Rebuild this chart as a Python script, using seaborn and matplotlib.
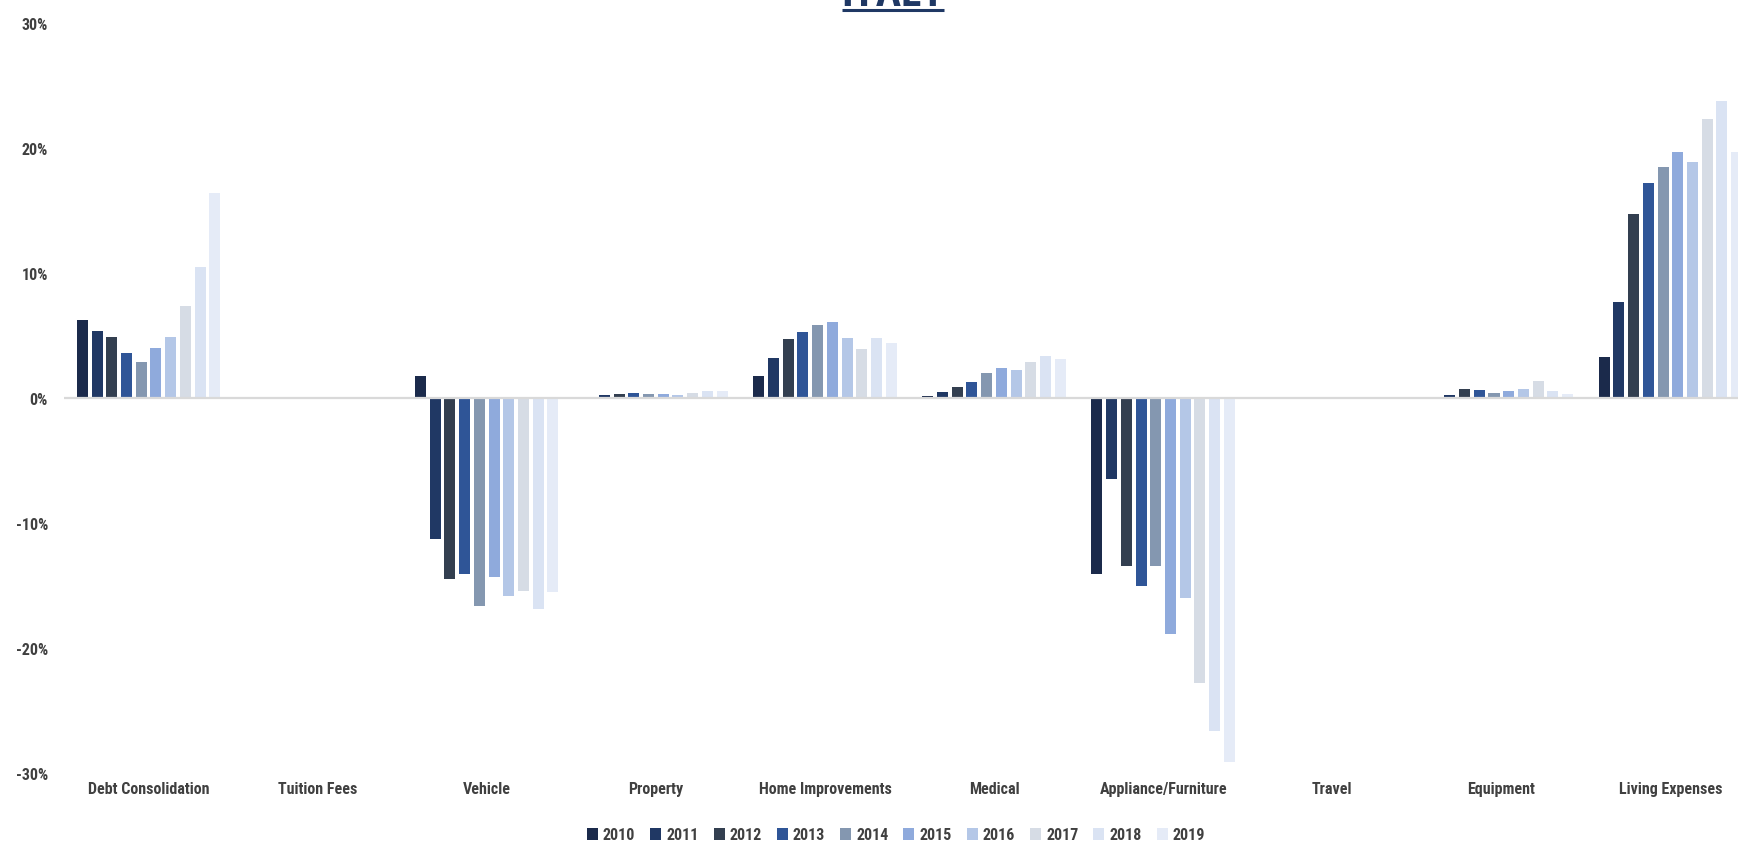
import os
import numpy as np
import pandas as pd
import matplotlib
matplotlib.use("Agg")
import matplotlib.pyplot as plt
from matplotlib import font_manager as fm
from matplotlib.textpath import TextPath
from matplotlib.lines import Line2D
from matplotlib.patches import Patch
import seaborn as sns

# ---- data (% change) ----
categories = ["Debt Consolidation", "Tuition Fees", "Vehicle", "Property",
              "Home Improvements", "Medical", "Appliance/Furniture", "Travel",
              "Equipment", "Living Expenses"]
years = ["2010", "2011", "2012", "2013", "2014", "2015", "2016", "2017", "2018", "2019"]

debt_consolidation = [6.26, 5.34, 4.86, 3.60, 2.90, 4.00, 4.86, 7.40, 10.50, 16.40]
tuition_fees = [0, 0, 0, 0, 0, 0, 0, 0, 0, 0]
vehicle = [1.80, -11.30, -14.50, -14.10, -16.60, -14.30, -15.80, -15.40, -16.90, -15.50]
property_ = [0.10, 0.24, 0.32, 0.40, 0.32, 0.32, 0.24, 0.40, 0.56, 0.56]
home_improvements = [1.74, 3.22, 4.70, 5.26, 5.86, 6.10, 4.78, 3.92, 4.78, 4.40]
medical = [0.18, 0.45, 0.90, 1.30, 2.02, 2.40, 2.24, 2.85, 3.40, 3.15]
appliance_furniture = [-14.05, -6.50, -13.40, -15.00, -13.40, -18.90, -16.00, -22.80, -26.60, -29.15]
travel = [0, 0, 0, 0, 0, 0, 0, 0, 0, 0]
equipment = [0, 0.24, 0.72, 0.64, 0.40, 0.56, 0.72, 1.36, 0.56, 0.32]
living_expenses = [3.28, 7.65, 14.70, 17.20, 18.45, 19.70, 18.85, 22.30, 23.76, 19.70]

series = [debt_consolidation, tuition_fees, vehicle, property_, home_improvements,
          medical, appliance_furniture, travel, equipment, living_expenses]

year_colors = ["#1B2A4B", "#203864", "#333F50", "#2F5597", "#8497B0",
               "#8FAADC", "#B4C7E7", "#D6DCE5", "#DAE3F3", "#E5EBF7"]

y_ticks = [-30, -20, -10, 0, 10, 20, 30]
y_tick_labels = ["-30%", "-20%", "-10%", "0%", "10%", "20%", "30%"]

rows = []
for cat, vals in zip(categories, series):
    for yr, v in zip(years, vals):
        rows.append({"category": cat, "year": yr, "value": v})
df = pd.DataFrame(rows)


# ---- typography: pick the narrowest bold face available ----
def pick_font():
    prefs = ["notosans-extracondensedbold", "notosans-extracondensedsemibold",
             "robotocondensed-bold", "notosans-condensedbold", "opensans-condbold",
             "liberationsansnarrow-bold", "dejavusanscondensed-bold"]
    files = [f.fname for f in fm.fontManager.ttflist]
    try:
        files += fm.findSystemFonts()
    except Exception:
        pass
    lookup = {}
    for f in files:
        key = os.path.splitext(os.path.basename(f))[0].lower().replace("_", "").replace(" ", "")
        lookup.setdefault(key, f)
    for p in prefs:
        if p in lookup:
            return fm.FontProperties(fname=lookup[p])
    return fm.FontProperties(family="DejaVu Sans", weight="bold")


base_fp = pick_font()


def size_for(text, px_width=None, px_height=None):
    tp = TextPath((0, 0), text, size=100, prop=base_fp)
    ext = tp.get_extents()
    sizes = []
    if px_width is not None:
        sizes.append(100 * (px_width * 0.72) / ext.width)
    if px_height is not None:
        sizes.append(100 * (px_height * 0.72) / ext.height)
    return min(sizes)


label_size = min(size_for("Debt Consolidation", px_width=120),
                 size_for("0", px_height=16))
fp_label = base_fp.copy()
fp_label.set_size(label_size)

title_size = size_for("ITALY", px_width=100)
fp_title = base_fp.copy()
fp_title.set_size(title_size)

TEXT = "#404040"
NAVY = "#1F3864"

# ---- figure ----
sns.set_theme(style="white")
W, H = 1738, 845
fig = plt.figure(figsize=(W / 100, H / 100), dpi=100)
ax = fig.add_axes([64 / W, 71 / H, (1755 - 64) / W, 750 / H])

sns.barplot(data=df, x="category", y="value", hue="year",
            order=categories, hue_order=years,
            palette=dict(zip(years, year_colors)),
            width=0.87, gap=0.25, errorbar=None, ax=ax, legend=False,
            saturation=1, linewidth=0, zorder=2)

ax.axhline(0, color="#D9D9D9", lw=1.6, zorder=3)
ax.set_ylim(-30, 30)
ax.set_xlim(-0.5, len(categories) - 0.5)
ax.set_yticks(y_ticks)
ax.set_yticklabels(y_tick_labels)
ax.set_xlabel("")
ax.set_ylabel("")
for s in ax.spines.values():
    s.set_visible(False)
ax.grid(False)
ax.tick_params(axis="y", length=0, pad=11.5, colors=TEXT)
ax.tick_params(axis="x", length=0, pad=6, colors=TEXT)
for t in ax.get_xticklabels() + ax.get_yticklabels():
    t.set_fontproperties(fp_label)
    t.set_color(TEXT)

# legend along the bottom edge
handles = [Patch(facecolor=c, edgecolor="none") for c in year_colors]
fs_px = label_size * 100 / 72
leg = fig.legend(handles, years, loc="center",
                 bbox_to_anchor=(896 / W, 1 - 836 / H), bbox_transform=fig.transFigure,
                 ncol=len(years), frameon=False, prop=fp_label,
                 handlelength=11 / fs_px, handleheight=13 / fs_px,
                 handletextpad=5 / fs_px, columnspacing=15 / fs_px,
                 borderpad=0, borderaxespad=0)
for t in leg.get_texts():
    t.set_color(TEXT)

# underlined title, running off the top edge
fig.text(893 / W, 1 - 6.5 / H, "ITALY", ha="center", va="baseline",
         fontproperties=fp_title, color=NAVY)
fig.add_artist(Line2D([842 / W, 944 / W], [1 - 10.5 / H, 1 - 10.5 / H],
                      transform=fig.transFigure, color=NAVY, lw=2.2,
                      solid_capstyle="butt"))

fig.savefig("out.png", dpi=100)
